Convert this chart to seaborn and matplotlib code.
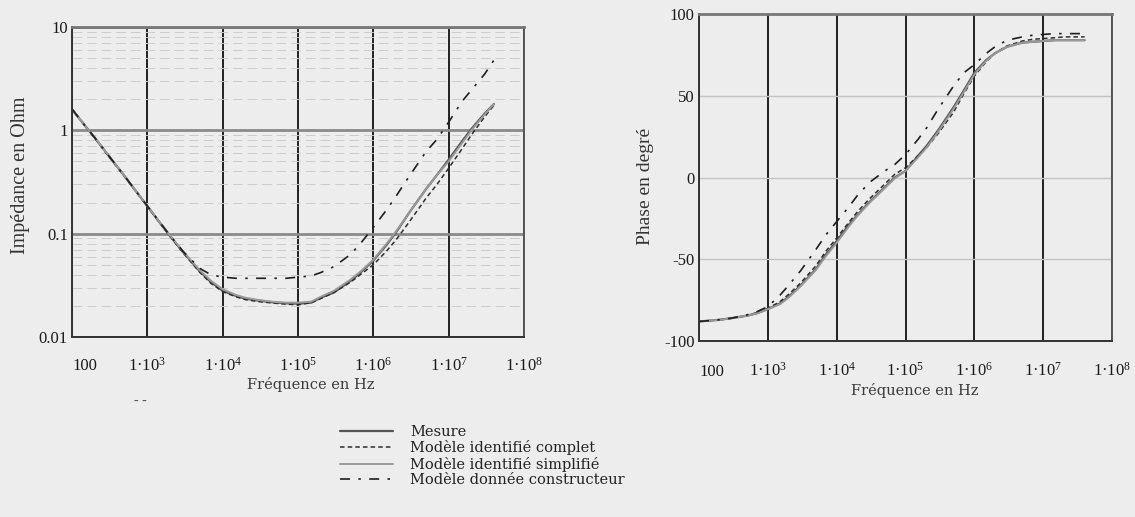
import numpy as np
import pandas as pd
import matplotlib
matplotlib.use("Agg")
import matplotlib.pyplot as plt
import matplotlib.transforms as mtransforms
from matplotlib.ticker import FixedLocator, NullLocator, LogLocator, NullFormatter
import seaborn as sns

# ---------------- data ----------------
freq = [100, 150, 200, 300, 500, 700, 1e3, 1.5e3, 2e3, 3e3, 5e3, 7e3,
        1e4, 1.5e4, 2e4, 3e4, 5e4, 7e4, 1e5, 1.5e5, 2e5, 3e5, 5e5, 7e5,
        1e6, 1.5e6, 2e6, 3e6, 5e6, 7e6, 1e7, 1.5e7, 2e7, 3e7, 4e7]

z_mesure = [1.6, 1.1, 0.85, 0.58, 0.36, 0.26, 0.185, 0.125, 0.095, 0.066, 0.043, 0.034,
            0.028, 0.025, 0.0235, 0.0225, 0.0215, 0.0212, 0.021, 0.0215, 0.024, 0.027, 0.035, 0.043,
            0.055, 0.078, 0.103, 0.16, 0.27, 0.37, 0.52, 0.78, 1.03, 1.45, 1.8]
z_complet = [1.62, 1.1, 0.84, 0.57, 0.355, 0.258, 0.183, 0.124, 0.094, 0.065, 0.042, 0.033,
             0.0275, 0.0245, 0.023, 0.022, 0.0212, 0.0208, 0.0205, 0.0215, 0.0235, 0.027, 0.034, 0.041,
             0.05, 0.068, 0.087, 0.13, 0.22, 0.3, 0.43, 0.66, 0.9, 1.35, 1.75]
z_simplifie = [1.6, 1.1, 0.85, 0.58, 0.36, 0.26, 0.185, 0.126, 0.096, 0.067, 0.044, 0.035,
               0.029, 0.0255, 0.024, 0.0228, 0.0218, 0.0215, 0.0215, 0.022, 0.0245, 0.028, 0.036, 0.044,
               0.056, 0.08, 0.105, 0.16, 0.27, 0.37, 0.5, 0.75, 1.0, 1.42, 1.8]
z_constructeur = [1.6, 1.1, 0.85, 0.58, 0.36, 0.26, 0.185, 0.126, 0.096, 0.067, 0.046, 0.040,
                  0.038, 0.037, 0.037, 0.037, 0.037, 0.037, 0.038, 0.039, 0.042, 0.048, 0.063, 0.083,
                  0.115, 0.17, 0.23, 0.36, 0.62, 0.82, 1.2, 1.9, 2.45, 3.5, 4.8]

p_mesure = [-88, -87.5, -87, -86, -84.5, -83, -80.5, -77, -73, -66, -56, -47,
            -39, -29, -23, -15, -6, 0, 4, 13, 19, 29, 43, 53,
            64, 72, 76, 80, 82.5, 83, 83.5, 84, 84, 84, 84]
p_complet = [-88, -87.5, -87, -86, -84.5, -82.5, -80, -76, -71.5, -64.5, -54, -45,
             -37, -27.5, -21, -13, -4, 2, 6, 13, 18, 27, 40, 51,
             62, 71, 76, 80.5, 83.5, 84.5, 85, 85.5, 86, 86, 86]
p_simplifie = [-88, -87.5, -87, -86, -84.5, -83, -80.5, -77.5, -73.5, -66.5, -56.5, -48,
               -40, -30, -23.5, -15.5, -6.5, -0.5, 4, 12, 18, 28, 42, 52,
               63, 71.5, 76, 80, 82.5, 83, 83.5, 84, 84, 84, 84]
p_constructeur = [-88, -87.5, -87, -86, -84, -82, -79, -72, -66, -57, -44, -35,
                  -27, -18, -11, -3, 4, 8, 14, 23, 30, 42, 56, 64,
                  69, 76, 80, 84, 86, 87, 87.5, 88, 88, 88, 88]

series_names = ["Mesure", "Modèle identifié complet",
                "Modèle identifié simplifié", "Modèle donnée constructeur"]
z_series = [z_mesure, z_complet, z_simplifie, z_constructeur]
p_series = [p_mesure, p_complet, p_simplifie, p_constructeur]

x_ticks = [1e2, 1e3, 1e4, 1e5, 1e6, 1e7, 1e8]
x_ticklabels = ["100", r"$\mathregular{1·10^{3}}$", r"$\mathregular{1·10^{4}}$",
                r"$\mathregular{1·10^{5}}$", r"$\mathregular{1·10^{6}}$",
                r"$\mathregular{1·10^{7}}$", r"$\mathregular{1·10^{8}}$"]
z_ticks = [0.01, 0.1, 1, 10]
z_ticklabels = ["0.01", "0.1", "1", "10"]
p_ticks = [-100, -50, 0, 50, 100]
p_ticklabels = ["-100", "-50", "0", "50", "100"]

# ---------------- style ----------------
sns.set_theme(style="white")
plt.rcParams["font.family"] = ["Liberation Serif", "DejaVu Serif"]
plt.rcParams["mathtext.fontset"] = "custom"
plt.rcParams["mathtext.rm"] = "Liberation Serif"
plt.rcParams["mathtext.it"] = "Liberation Serif:italic"
plt.rcParams["mathtext.bf"] = "Liberation Serif:bold"

BG = "#ededed"
styles = [
    dict(color="#555555", lw=1.6, ls="-"),
    dict(color="#2e2e2e", lw=1.1, ls=(0, (3, 2))),
    dict(color="#9a9a9a", lw=1.4, ls="-"),
    dict(color="#1e1e1e", lw=1.2, ls=(0, (6, 5, 1.5, 5))),
]

W, H = 1135, 517
fig = plt.figure(figsize=(W / 100, H / 100), dpi=100, facecolor=BG)

def frac(x0, y0, x1, y1):
    return [x0 / W, 1 - y1 / H, (x1 - x0) / W, (y1 - y0) / H]

ax1 = fig.add_axes(frac(72, 27, 524, 337))
ax2 = fig.add_axes(frac(699, 14, 1112, 341))

df = pd.DataFrame({"freq": freq})
handles = []
for name, z, st in zip(series_names, z_series, styles):
    df["val"] = z
    sns.lineplot(data=df, x="freq", y="val", ax=ax1, color=st["color"],
                 linewidth=st["lw"], linestyle=st["ls"])
    handles.append(ax1.lines[-1])
for name, p, st in zip(series_names, p_series, styles):
    df["val"] = p
    sns.lineplot(data=df, x="freq", y="val", ax=ax2, color=st["color"],
                 linewidth=st["lw"], linestyle=st["ls"])

for ax in (ax1, ax2):
    ax.set_facecolor(BG)
    ax.set_xscale("log")
    ax.set_xlim(1e2, 1e8)
    ax.xaxis.set_major_locator(FixedLocator(x_ticks))
    ax.xaxis.set_minor_locator(NullLocator())
    ax.set_xticklabels(x_ticklabels)
    ax.grid(False)
    ax.xaxis.grid(True, which="major", color="#111111", lw=1.3)
    ax.set_axisbelow(True)
    ax.tick_params(axis="both", length=0, labelsize=12, colors="#1a1a1a")
    ax.set_xlabel("")
    ax.set_ylabel("")
    for side in ["left", "bottom", "right"]:
        ax.spines[side].set_color("#333333")
        ax.spines[side].set_linewidth(1.4)
    ax.spines["top"].set_color("#777777")
    ax.spines["top"].set_linewidth(2.0)
    ax.spines["right"].set_color("#555555")

# impedance axes
ax1.set_yscale("log")
ax1.set_ylim(0.01, 10)
ax1.yaxis.set_major_locator(FixedLocator(z_ticks))
ax1.set_yticklabels(z_ticklabels)
ax1.yaxis.set_minor_locator(LogLocator(base=10, subs=np.arange(2, 10)))
ax1.yaxis.set_minor_formatter(NullFormatter())
ax1.tick_params(axis="y", which="minor", length=0)
ax1.yaxis.grid(True, which="major", color="#8a8a8a", lw=2.0)
ax1.yaxis.grid(True, which="minor", color="#cdcdcd", lw=0.7, ls=(0, (10, 5)))
ax1.tick_params(axis="x", pad=14)
ax1.tick_params(axis="y", pad=3)

# phase axes
ax2.set_ylim(-100, 100)
ax2.yaxis.set_major_locator(FixedLocator(p_ticks))
ax2.set_yticklabels(p_ticklabels)
ax2.yaxis.grid(True, which="major", color="#c4c4c4", lw=1.0)
ax2.tick_params(axis="x", pad=15)
ax2.tick_params(axis="y", pad=3)

# the "100" label starts at its grid line and sits level with the "1·10" bases
for ax in (ax1, ax2):
    first = ax.get_xticklabels()[0]
    first.set_horizontalalignment("left")
    first.set_transform(first.get_transform() +
                        mtransforms.ScaledTranslation(0, -2 / 100, fig.dpi_scale_trans))

# axis titles
fig.text(311 / W, 1 - 384 / H, "Fréquence en Hz", ha="center", va="center",
         fontsize=10.5, family="DejaVu Serif", color="#3a3a3a")
fig.text(915 / W, 1 - 390 / H, "Fréquence en Hz", ha="center", va="center",
         fontsize=10.5, family="DejaVu Serif", color="#3a3a3a")
fig.text(20 / W, 1 - 175 / H, "Impédance en Ohm", ha="center", va="center",
         rotation=90, fontsize=14.5, color="#333333")
fig.text(645 / W, 1 - 186 / H, "Phase en degré", ha="center", va="center",
         rotation=90, fontsize=14, color="#333333")
fig.text(140 / W, 1 - 400 / H, "- -", ha="center", va="center",
         fontsize=10, color="#555555")

leg = fig.legend(handles, series_names, loc="upper left",
                 bbox_to_anchor=(340 / W, 1 - 425 / H), frameon=False,
                 prop={"family": "DejaVu Serif", "size": 10.5},
                 handlelength=3.6, handletextpad=1.2,
                 labelspacing=0.1, borderaxespad=0, borderpad=0)
for t in leg.get_texts():
    t.set_color("#222222")

fig.savefig("out.png", dpi=100, facecolor=BG)
